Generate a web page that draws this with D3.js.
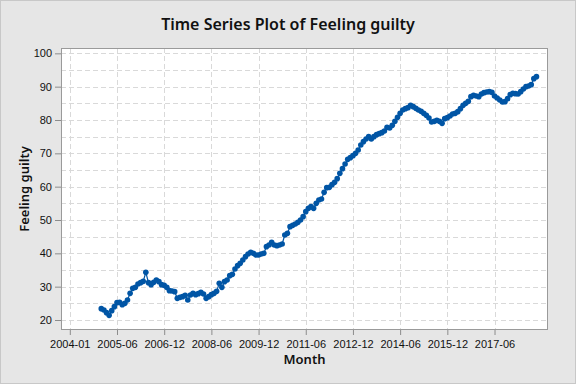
<!DOCTYPE html>
<html>
<head>
<meta charset="utf-8">
<title>Time Series Plot of Feeling guilty</title>
<script src="https://cdnjs.cloudflare.com/ajax/libs/d3/7.8.5/d3.min.js"></script>
<style>
body {
  margin: 0;
  background: #e6e6e6;
}
svg {
  display: block;
  font-family: "Noto Sans", "Open Sans", sans-serif;
}
.grid line {
  stroke: #d9d9d9;
  stroke-width: 1;
  stroke-dasharray: 5,3;
}
.axis text {
  font-size: 11px;
  fill: #111;
}
.axis path, .axis line {
  stroke: #8c8c8c;
}
</style>
</head>
<body>
<script>
// monthly index 0 = 2004-01; first observed value at index 12
var firstIndex = 12;
var feelingGuilty = [
  23.4, 23.0, 22.2, 21.4, 22.8, 24.0, 25.2, 25.3, 24.6, 25.0, 26.0, 28.0,
  29.5, 29.8, 30.8, 31.2, 31.6, 34.3, 31.2, 30.6, 31.3, 32.0, 31.5, 30.6,
  30.4, 29.8, 28.8, 28.7, 28.5, 26.5, 26.8, 27.0, 27.4, 26.0, 27.5, 28.0,
  27.6, 27.9, 28.3, 27.8, 26.5, 27.0, 27.6, 28.0, 28.6, 31.0, 29.8, 31.5,
  32.0, 33.3, 33.7, 35.3, 36.3, 37.0, 38.0, 39.0, 39.8, 40.3, 40.0, 39.5,
  39.5, 39.8, 40.0, 42.0, 42.5, 43.3, 42.5, 42.3, 42.5, 42.8, 45.5, 46.0,
  48.0, 48.4, 48.8, 49.3, 50.0, 51.0, 52.5, 53.5, 54.0, 53.5, 55.0, 56.0,
  56.3, 58.3, 59.7, 59.8, 60.6, 61.3, 62.4, 64.0, 65.4, 66.8, 68.2, 68.7,
  69.3, 70.0, 71.0, 72.5, 73.5, 74.3, 75.0, 74.3, 75.0, 75.6, 75.9, 76.2,
  76.7, 77.8, 77.6, 78.4, 79.6, 80.8, 82.0, 83.0, 83.4, 83.7, 84.4, 84.0,
  83.5, 83.0, 82.6, 82.0, 81.4, 80.6, 79.4, 79.6, 79.9, 79.6, 79.0, 80.4,
  80.7, 81.2, 81.8, 82.0, 82.5, 83.4, 84.4, 85.0, 85.6, 87.0, 87.4, 87.2,
  87.0, 87.8, 88.2, 88.4, 88.5, 88.3, 87.2, 86.6, 86.0, 85.4, 85.5, 86.4,
  87.6, 88.0, 87.9, 87.8, 88.5, 89.3, 90.0, 90.2, 90.6, 92.4, 93.0
];
var xTickIndex = [0, 18, 36, 54, 72, 90, 108, 126, 144, 162];
var xTickLabels = ["2004-01", "2005-06", "2006-12", "2008-06", "2009-12",
                   "2011-06", "2012-12", "2014-06", "2015-12", "2017-06"];
var yTicks = [20, 30, 40, 50, 60, 70, 80, 90, 100];
var yGrid = d3.range(20, 101, 5);

var width = 576, height = 384,
  pLeft = 61, pRight = 548, pTop = 48, pBottom = 330;

var data = feelingGuilty.map(function(v, i) { return {i: firstIndex + i, v: v}; });

var x = d3.scaleLinear().domain([-3.36, 182.4]).range([pLeft, pRight]);
var y = d3.scaleLinear().domain([17, 101.6]).range([pBottom, pTop]);

var svg = d3.select("body").append("svg")
  .attr("width", width)
  .attr("height", height);

// outer panel
svg.append("rect")
  .attr("x", 0.5).attr("y", 0.5)
  .attr("width", width - 1).attr("height", height - 1)
  .attr("fill", "#e6e6e6")
  .attr("stroke", "#c8c8c8");

svg.append("rect")
  .attr("x", pLeft).attr("y", pTop)
  .attr("width", pRight - pLeft).attr("height", pBottom - pTop)
  .attr("fill", "#fff");

// grid
var grid = svg.append("g").attr("class", "grid");
grid.selectAll(".hg").data(yGrid).enter().append("line")
  .attr("x1", pLeft).attr("x2", pRight)
  .attr("y1", function(d) { return Math.round(y(d)) + 0.5; })
  .attr("y2", function(d) { return Math.round(y(d)) + 0.5; });
grid.selectAll(".vg").data(xTickIndex).enter().append("line")
  .attr("y1", pTop).attr("y2", pBottom)
  .attr("x1", function(d) { return Math.round(x(d)) + 0.5; })
  .attr("x2", function(d) { return Math.round(x(d)) + 0.5; });

// axes
var xAxis = d3.axisBottom(x)
  .tickValues(xTickIndex)
  .tickFormat(function(d, i) { return xTickLabels[i]; })
  .tickSize(5).tickSizeOuter(0).tickPadding(5);
var yAxis = d3.axisLeft(y)
  .tickValues(yTicks)
  .tickSize(6).tickSizeOuter(0).tickPadding(3);

svg.append("g").attr("class", "axis")
  .attr("transform", "translate(0," + pBottom + ")")
  .call(xAxis)
  .call(function(g) { g.select(".domain").remove(); });
svg.append("g").attr("class", "axis")
  .attr("transform", "translate(" + pLeft + ",0)")
  .call(yAxis)
  .call(function(g) { g.select(".domain").remove(); });

svg.append("rect")
  .attr("x", pLeft + 0.5).attr("y", pTop + 0.5)
  .attr("width", pRight - pLeft - 1).attr("height", pBottom - pTop - 1)
  .attr("fill", "none")
  .attr("stroke", "#9a9a9a");

// series
var line = d3.line()
  .x(function(d) { return x(d.i); })
  .y(function(d) { return y(d.v); });

svg.append("path")
  .datum(data)
  .attr("d", line)
  .attr("fill", "none")
  .attr("stroke", "#0055a5")
  .attr("stroke-width", 1.2);

svg.append("g").selectAll("circle")
  .data(data)
  .enter().append("circle")
  .attr("cx", function(d) { return x(d.i); })
  .attr("cy", function(d) { return y(d.v); })
  .attr("r", 2.8)
  .attr("fill", "#0055a5");

// titles
svg.append("text")
  .attr("x", 288).attr("y", 30)
  .attr("text-anchor", "middle")
  .attr("font-size", "16px")
  .attr("font-weight", 600)
  .attr("fill", "#111")
  .text("Time Series Plot of Feeling guilty");

svg.append("text")
  .attr("x", (pLeft + pRight) / 2).attr("y", 364)
  .attr("text-anchor", "middle")
  .attr("font-size", "13px")
  .attr("font-weight", 600)
  .attr("fill", "#111")
  .text("Month");

svg.append("text")
  .attr("transform", "translate(29," + ((pTop + pBottom) / 2) + ") rotate(-90)")
  .attr("text-anchor", "middle")
  .attr("font-size", "13px")
  .attr("font-weight", 600)
  .attr("fill", "#111")
  .text("Feeling guilty");
</script>
</body>
</html>
